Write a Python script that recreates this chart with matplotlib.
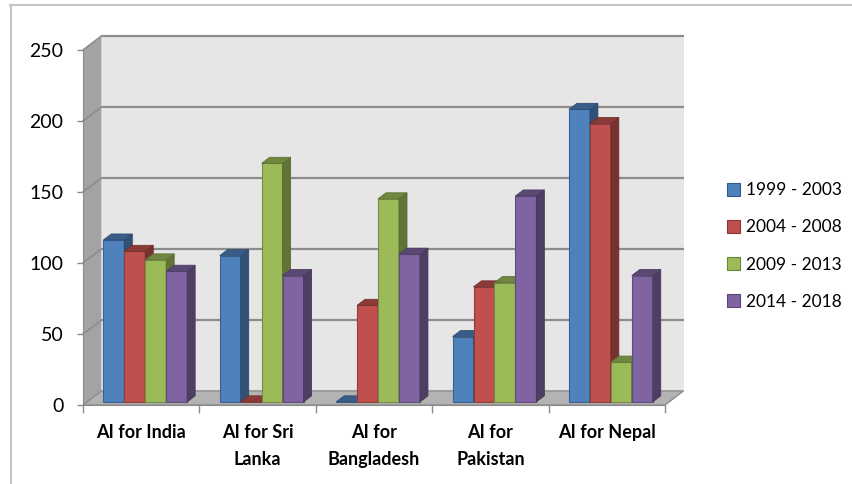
import matplotlib
matplotlib.use("Agg")
import matplotlib.pyplot as plt
from matplotlib.patches import Polygon, Patch
from matplotlib.lines import Line2D
import matplotlib.colors as mcolors

plt.rcParams['font.family'] = ['Lato', 'DejaVu Sans']

# ---- data ----
categories = ["AI for India", "AI for Sri\nLanka", "AI for\nBangladesh",
              "AI for\nPakistan", "AI for Nepal"]
periods = ["1999 - 2003", "2004 - 2008", "2009 - 2013", "2014 - 2018"]
v_1999_2003 = [114, 103, 0, 46, 206]
v_2004_2008 = [106, 0, 68, 81, 196]
v_2009_2013 = [100, 168, 143, 84, 28]
v_2014_2018 = [92, 89, 104, 145, 89]
series = [v_1999_2003, v_2004_2008, v_2009_2013, v_2014_2018]
colors = ["#4F81BD", "#C0504D", "#9BBB59", "#8064A2"]
y_ticks = [0, 50, 100, 150, 200, 250]


def shade(c, f):
    r, g, b = mcolors.to_rgb(c)
    return (r * f, g * f, b * f)


W, H = 852, 484
fig = plt.figure(figsize=(W / 100, H / 100), dpi=100)
# axes box = front plane of the 3D frame
L, R, B, T = 83, 665, 405, 50
ax = fig.add_axes([L / W, 1 - B / H, (R - L) / W, (B - T) / H])
ax.set_xlim(-0.5, len(categories) - 0.5)
ax.set_ylim(0, 250)
ax.patch.set_visible(False)

# depth of the frame in data units
DX, DY = 0.159, 9.9
x0, x1 = -0.5, len(categories) - 0.5
ymax = 250

# back wall, side wall, floor
ax.add_patch(Polygon([(x0 + DX, DY), (x1 + DX, DY), (x1 + DX, ymax + DY), (x0 + DX, ymax + DY)],
                     closed=True, facecolor="#E6E6E6", edgecolor="none", zorder=0, clip_on=False))
ax.add_patch(Polygon([(x0, 0), (x0 + DX, DY), (x0 + DX, ymax + DY), (x0, ymax)],
                     closed=True, facecolor="#A3A3A3", edgecolor="none", zorder=0, clip_on=False))
ax.add_patch(Polygon([(x0, 0), (x1, 0), (x1 + DX, DY), (x0 + DX, DY)],
                     closed=True, facecolor="#B3B3B3", edgecolor="#8C8C8C", lw=1.0, zorder=0.5,
                     clip_on=False))
# gridlines on back and side walls
for v in y_ticks[1:]:
    ax.plot([x0 + DX, x1 + DX], [v + DY, v + DY], color="#8C8C8C", lw=1.6, zorder=0.3,
            clip_on=False, solid_capstyle="butt")
    ax.plot([x0, x0 + DX], [v, v + DY], color="#8C8C8C", lw=1.2, zorder=0.3, clip_on=False)

# bars
n = len(series)
bw = 0.18
f0, f1 = 0.22, 0.65
sx, sy = f0 * DX, f0 * DY
bdx, bdy = (f1 - f0) * DX, (f1 - f0) * DY
z = 2
for ci in range(len(categories)):
    for si in range(n):
        v = series[si][ci]
        c = colors[si]
        xl = ci - n * bw / 2 + si * bw + sx
        xr = xl + bw
        ax.bar(xl, v, width=bw, bottom=sy, align="edge", color=c,
               edgecolor=shade(c, 0.75), lw=0.8, zorder=z)
        # right side face
        ax.add_patch(Polygon([(xr, sy), (xr + bdx, sy + bdy), (xr + bdx, sy + v + bdy), (xr, sy + v)],
                             closed=True, facecolor=shade(c, 0.62), edgecolor=shade(c, 0.55),
                             lw=0.6, zorder=z + 0.1, clip_on=False))
        # top face
        ax.add_patch(Polygon([(xl, sy + v), (xr, sy + v), (xr + bdx, sy + v + bdy), (xl + bdx, sy + v + bdy)],
                             closed=True, facecolor=shade(c, 0.72), edgecolor=shade(c, 0.6),
                             lw=0.6, zorder=z + 0.2, clip_on=False))
        z += 1

# axes styling
for s in ("top", "right"):
    ax.spines[s].set_visible(False)
ax.spines["left"].set_color("#8C8C8C")
ax.spines["bottom"].set_color("#8C8C8C")
ax.spines["left"].set_zorder(1)
ax.spines["bottom"].set_zorder(1)

ax.set_yticks(y_ticks)
ax.tick_params(axis="y", direction="out", length=4, width=1, color="#8C8C8C",
               labelsize=14, pad=10, labelcolor="black")
ax.set_xticks([x0 + i for i in range(len(categories) + 1)])
ax.set_xticklabels([])
ax.tick_params(axis="x", which="major", direction="out", length=6, width=1, color="#8C8C8C")
ax.set_xticks(range(len(categories)), minor=True)
ax.set_xticklabels(categories, minor=True, fontsize=13, fontweight="bold", linespacing=1.65)
ax.tick_params(axis="x", which="minor", length=0, pad=14)

# legend
handles = [Patch(facecolor=c, edgecolor=shade(c, 0.7), lw=0.8) for c in colors]
fig.legend(handles, periods, loc="center left", bbox_to_anchor=(727 / W, 1 - 246 / H),
           frameon=False, fontsize=12.5, handlelength=0.75, handleheight=0.75,
           handletextpad=0.35, labelspacing=1.22, borderpad=0, borderaxespad=0)

# outer frame lines
fig.add_artist(Line2D([10 / W, 1], [1 - 5 / H, 1 - 5 / H], transform=fig.transFigure,
                      color="#C4C4C4", lw=1.5))
fig.add_artist(Line2D([11 / W, 11 / W], [0, 1 - 5 / H], transform=fig.transFigure,
                      color="#C4C4C4", lw=1.5))

fig.savefig("out.png", dpi=100)
